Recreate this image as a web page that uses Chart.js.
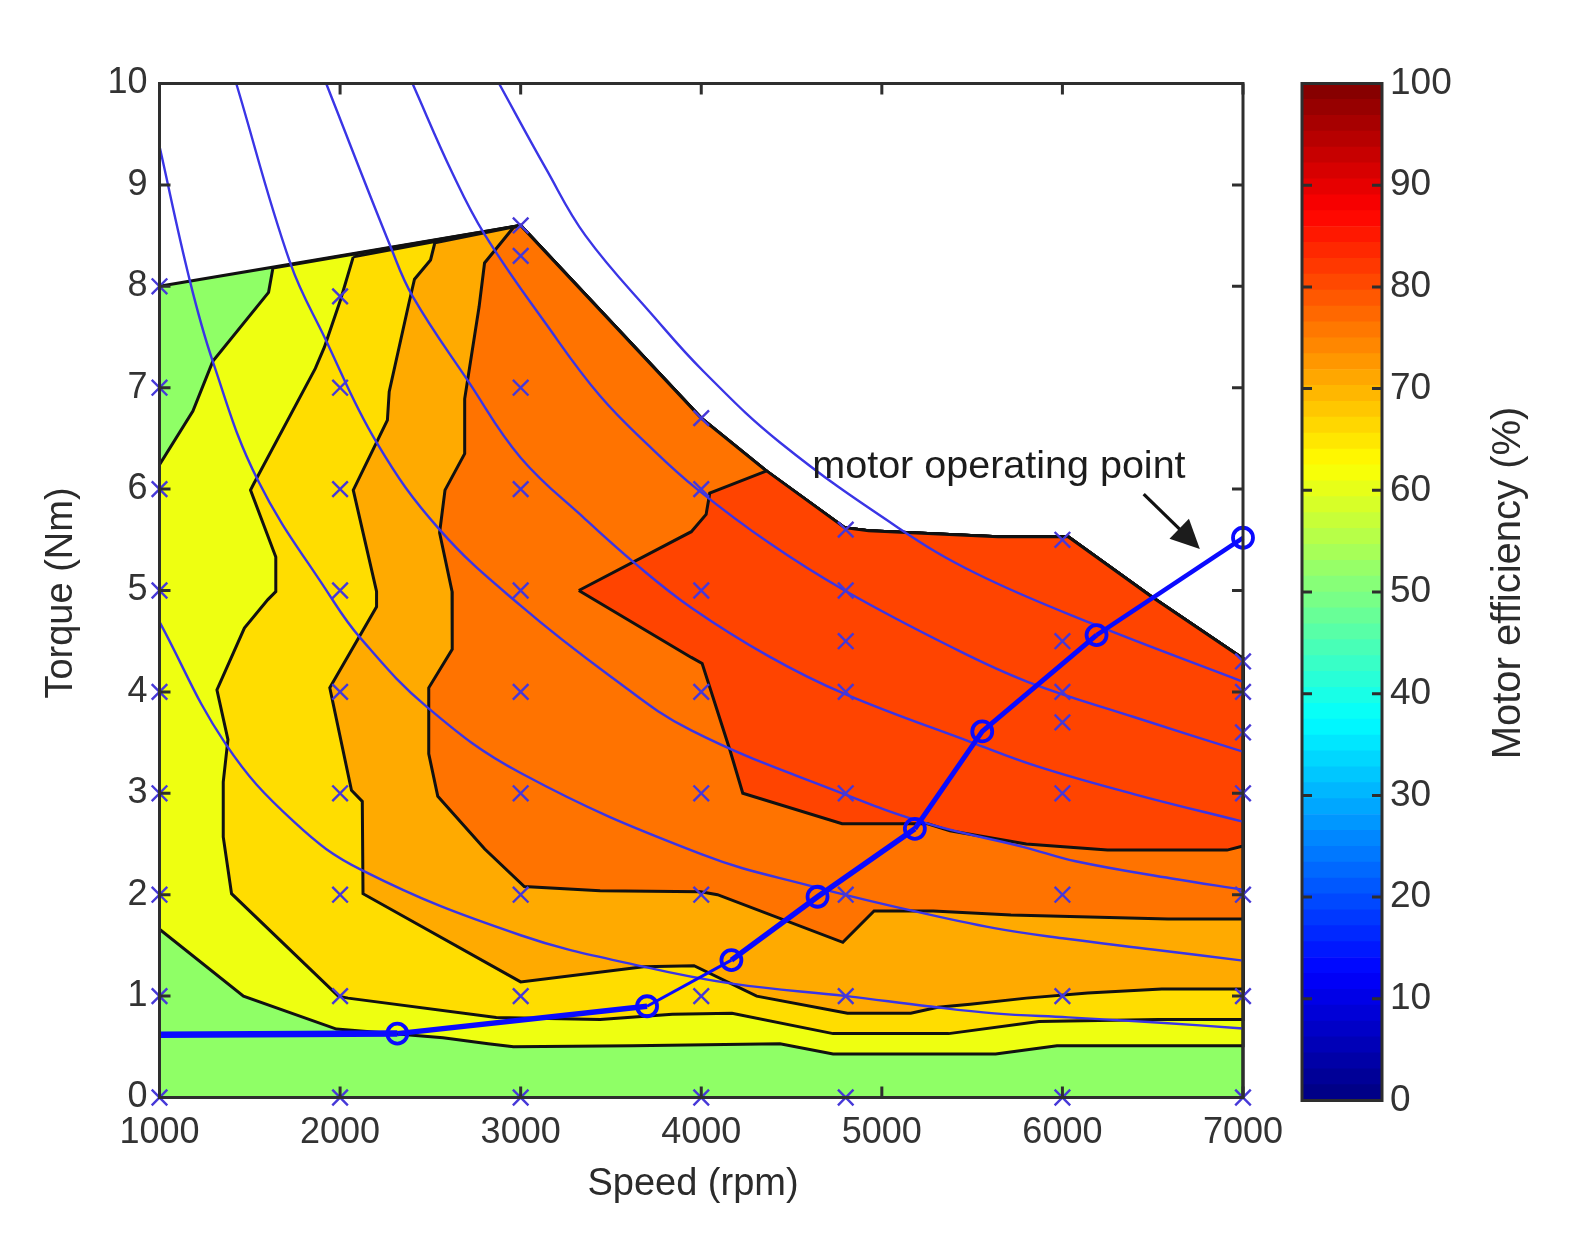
<!DOCTYPE html>
<html>
<head>
<meta charset="utf-8">
<title>Motor efficiency map</title>
<script src="https://cdn.jsdelivr.net/npm/chart.js@4"></script>
<style>
	body { margin: 0; background: #fff; }
	canvas { position: absolute; top: 0; }
	#mapChart { left: 0; }
	#barChart { left: 1290px; }
</style>
</head>
<body>
<canvas id="mapChart" width="1573" height="1243"></canvas>
<canvas id="barChart" width="283" height="1243"></canvas>
<script>
const speedTicks = [1000, 2000, 3000, 4000, 5000, 6000, 7000];
const torqueTicks = [0, 1, 2, 3, 4, 5, 6, 7, 8, 9, 10];
const efficiencyTicks = [0, 10, 20, 30, 40, 50, 60, 70, 80, 90, 100];

// upper limit of the map, right side back to the 3000 rpm peak
const limitEdge = [[7000, 4.33], [6492, 4.94], [6032, 5.53], [5643, 5.53], [5285, 5.56], [4927, 5.59], [4794, 5.62], [4367, 6.17], [4000, 6.7], [3000, 8.6]];
const fullMap = [[1000, 8.0], [1000, 0], [7000, 0]];

// contour boundaries, each from the top edge round to the right side
const contour55 = [[1628, 8.18], [1604, 7.94], [1295, 7.26], [1185, 6.77], [1000, 6.24], [1000, 1.66], [1465, 1.0], [1980, 0.675], [2570, 0.59], [2820, 0.53], [2960, 0.5], [3620, 0.51], [4436, 0.53], [4730, 0.43], [5630, 0.43], [5970, 0.51], [7000, 0.51]];
const contour60 = [[2073, 8.29], [2003, 7.87], [1913, 7.4], [1863, 7.19], [1524, 6.06], [1504, 5.99], [1644, 5.33], [1644, 4.99], [1600, 4.91], [1470, 4.63], [1318, 4.02], [1379, 3.53], [1353, 3.11], [1353, 2.57], [1399, 2.01], [1990, 1.0], [2044, 0.98], [2865, 0.79], [3440, 0.77], [3840, 0.82], [4170, 0.83], [4730, 0.63], [5370, 0.63], [5870, 0.75], [6530, 0.77], [7000, 0.77]];
const contour65 = [[2525, 8.43], [2501, 8.26], [2412, 8.07], [2382, 7.84], [2272, 6.96], [2262, 6.68], [2073, 5.99], [2202, 4.99], [2202, 4.84], [1943, 4.04], [2063, 3.03], [2123, 2.92], [2127, 2.01], [3000, 1.14], [3680, 1.29], [3960, 1.3], [4307, 1.0], [4810, 0.83], [5160, 0.83], [5310, 0.89], [5490, 0.92], [5800, 0.98], [6140, 1.03], [6550, 1.07], [7000, 1.07]];
const contour70 = [[2960, 8.58], [2800, 8.23], [2770, 7.8], [2690, 6.89], [2690, 6.35], [2581, 5.99], [2551, 5.57], [2620, 4.99], [2621, 4.42], [2491, 4.04], [2491, 3.39], [2541, 2.97], [2801, 2.45], [3020, 2.08], [3440, 2.04], [3997, 2.03], [4090, 2.0], [4784, 1.53], [4957, 1.84], [5285, 1.84], [5715, 1.8], [6585, 1.76], [7000, 1.76]];
const contour75 = [[3322, 5.0], [3945, 5.58], [4027, 5.75], [4047, 5.96], [4362, 6.18], [4794, 5.62], [4927, 5.59], [5285, 5.56], [5643, 5.53], [6032, 5.53], [6492, 4.94], [7000, 4.33], [7000, 2.48], [6912, 2.44], [6250, 2.44], [5800, 2.5], [5377, 2.63], [5254, 2.7], [4780, 2.7], [4230, 3.0], [4160, 3.42], [4005, 4.28], [3945, 4.34]];

// constant power curves
const powerCurve1 = [[1000, 4.69], [1365, 3.49], [1744, 2.72], [2123, 2.24], [3000, 1.6], [3680, 1.29], [4180, 1.12], [4804, 1.0], [5255, 0.9], [5623, 0.83], [6032, 0.79], [6523, 0.74], [7000, 0.68]];
const powerCurve2 = [[1000, 9.38], [1166, 8.07], [1295, 7.26], [1544, 6.09], [1943, 4.95], [2113, 4.53], [2482, 3.85], [3000, 3.2], [4000, 2.4], [4620, 2.08], [5173, 1.84], [5623, 1.67], [6000, 1.57], [6500, 1.46], [7000, 1.35]];
const powerCurve3 = [[1425, 10], [1724, 8.23], [1913, 7.5], [2202, 6.46], [2551, 5.6], [3000, 4.85], [3500, 4.15], [3945, 3.62], [4794, 2.99], [5254, 2.7], [5786, 2.47], [6073, 2.33], [6605, 2.16], [7000, 2.05]];
const powerCurve4 = [[1923, 10], [2282, 8.38], [2402, 7.9], [2711, 7.06], [3000, 6.31], [3360, 5.7], [3638, 5.26], [3945, 4.83], [4375, 4.35], [4794, 3.98], [5500, 3.5], [5870, 3.26], [6400, 2.99], [7000, 2.72]];
const powerCurve5 = [[2401, 10], [2621, 9.12], [2801, 8.51], [3140, 7.63], [3439, 6.92], [3738, 6.38], [3977, 6.0], [4375, 5.47], [4794, 5.0], [5377, 4.45], [5807, 4.1], [6400, 3.75], [7000, 3.41]];
const powerCurve6 = [[2880, 10], [3140, 9.16], [3359, 8.5], [3738, 7.7], [4013, 7.16], [4436, 6.46], [5090, 5.62], [5520, 5.17], [6155, 4.68], [7000, 4.1]];

// measured points
const measured1000 = [0, 1, 2, 3, 4, 5, 6, 7, 8];
const measured2000 = [0, 1, 2, 3, 4, 5, 6, 7, 7.9];
const measured3000 = [0, 1, 2, 3, 4, 5, 6, 7, 8.3, 8.6];
const measured4000 = [0, 1, 2, 3, 4, 5, 6, 6.7];
const measured4800 = [0, 1, 2, 3, 4, 4.5, 5, 5.6];
const measured6000 = [0, 1, 2, 3, 3.7, 4, 4.5, 5.5];
const measured7000 = [0, 1, 2, 3, 3.6, 4, 4.3];

const operatingPoints = [[1000, 0.62], [2317, 0.63], [3700, 0.9], [4167, 1.355], [4644, 1.98], [5183, 2.65], [5556, 3.61], [6189, 4.56], [7000, 5.52]];
const operatingWidths = [6.5, 5.5, 3, 5.5, 5.5, 5, 5, 4.5];

const annotationAt = [4615, 6.22];
const arrowFrom = [6450, 5.95];
const arrowTo = [6761, 5.41];

const textFont = '"Liberation Sans", Arial, sans-serif';
const textColor = '#2b2b2b';
const axisColor = '#2e2e2e';

const toXY = (pairs) => pairs.map((p) => ({ x: p[0], y: p[1] }));
const column = (speed, torques) => torques.map((t) => ({ x: speed, y: t }));

const region = (points, color) => ({
	data: toXY(points.concat([points[0]])),
	showLine: true,
	fill: 'shape',
	backgroundColor: color,
	borderColor: '#111',
	borderWidth: 3,
	pointRadius: 0,
	clip: false,
});

const curve = (points) => ({
	data: toXY(points),
	showLine: true,
	fill: false,
	borderColor: '#3a35e6',
	borderWidth: 2.4,
	tension: 0.4,
	pointRadius: 0,
});

const measuredPoints = [].concat(
	column(1000, measured1000), column(2000, measured2000), column(3000, measured3000),
	column(4000, measured4000), column(4800, measured4800), column(6000, measured6000),
	column(7000, measured7000)
);

// first datasets are drawn last, so the line work comes first
const mapDatasets = [
	{
		data: toXY(operatingPoints),
		showLine: true,
		borderColor: '#0a0aff',
		backgroundColor: 'transparent',
		borderWidth: 4,
		segment: { borderWidth: (c) => operatingWidths[c.p0DataIndex] },
		pointRadius: (c) => (c.dataIndex === 0 ? 0 : 10),
		pointBorderColor: '#0a0aff',
		pointBorderWidth: 3.8,
		pointBackgroundColor: 'transparent',
		clip: false,
	},
	{
		data: measuredPoints,
		showLine: false,
		pointStyle: 'crossRot',
		pointRadius: 11,
		pointBorderColor: '#4638d8',
		pointBorderWidth: 2.4,
		clip: false,
	},
	curve(powerCurve1), curve(powerCurve2), curve(powerCurve3),
	curve(powerCurve4), curve(powerCurve5), curve(powerCurve6),
	region(contour75, '#ff4400'),
	region(contour70.concat(limitEdge), '#ff7300'),
	region(contour65.concat(limitEdge), '#ffaa00'),
	region(contour60.concat(limitEdge), '#ffdd00'),
	region(contour55.concat(limitEdge), '#eeff11'),
	region(fullMap.concat(limitEdge), '#8fff66'),
];

// ticks inside the box on all four sides, like the original plot
const drawBox = (chart, xTicks, yTicks, tickLen) => {
	const { ctx, chartArea: a, scales } = chart;
	ctx.save();
	ctx.strokeStyle = axisColor;
	ctx.lineWidth = 3;
	ctx.strokeRect(a.left, a.top, a.right - a.left, a.bottom - a.top);
	ctx.beginPath();
	for (const v of xTicks) {
		const px = scales.x.getPixelForValue(v);
		ctx.moveTo(px, a.top);
		ctx.lineTo(px, a.top + tickLen);
		ctx.moveTo(px, a.bottom);
		ctx.lineTo(px, a.bottom - tickLen);
	}
	for (const v of yTicks) {
		const py = scales.y.getPixelForValue(v);
		ctx.moveTo(a.left, py);
		ctx.lineTo(a.left + tickLen, py);
		ctx.moveTo(a.right, py);
		ctx.lineTo(a.right - tickLen, py);
	}
	ctx.stroke();
	ctx.restore();
};

const drawTitle = (ctx, text, x, y, size, angle) => {
	ctx.save();
	ctx.translate(x, y);
	ctx.rotate(angle);
	ctx.textAlign = 'center';
	ctx.textBaseline = 'middle';
	ctx.fillStyle = textColor;
	ctx.font = size + 'px ' + textFont;
	ctx.fillText(text, 0, 0);
	ctx.restore();
};

const mapDecor = {
	id: 'mapDecor',
	afterDatasetsDraw(chart) {
		const { ctx, scales } = chart;
		drawBox(chart, speedTicks, torqueTicks, 11);
		drawTitle(ctx, 'Speed (rpm)', 693, 1185, 38, 0);
		drawTitle(ctx, 'Torque (Nm)', 62, 593, 38, -Math.PI / 2);
		ctx.save();
		ctx.fillStyle = '#1c1c1c';
		ctx.font = '39.5px ' + textFont;
		ctx.textBaseline = 'middle';
		ctx.fillText('motor operating point', scales.x.getPixelForValue(annotationAt[0]), scales.y.getPixelForValue(annotationAt[1]));
		const x0 = scales.x.getPixelForValue(arrowFrom[0]);
		const y0 = scales.y.getPixelForValue(arrowFrom[1]);
		const x1 = scales.x.getPixelForValue(arrowTo[0]);
		const y1 = scales.y.getPixelForValue(arrowTo[1]);
		const ang = Math.atan2(y1 - y0, x1 - x0);
		ctx.strokeStyle = '#111';
		ctx.lineWidth = 3.2;
		ctx.beginPath();
		ctx.moveTo(x0, y0);
		ctx.lineTo(x1 - 20 * Math.cos(ang), y1 - 20 * Math.sin(ang));
		ctx.stroke();
		ctx.beginPath();
		ctx.moveTo(x1, y1);
		ctx.lineTo(x1 - 32 * Math.cos(ang - 0.45), y1 - 32 * Math.sin(ang - 0.45));
		ctx.lineTo(x1 - 32 * Math.cos(ang + 0.45), y1 - 32 * Math.sin(ang + 0.45));
		ctx.closePath();
		ctx.fill();
		ctx.restore();
	},
};

const tickFont = { family: textFont, size: 36 };

new Chart(document.getElementById('mapChart'), {
	type: 'scatter',
	data: { datasets: mapDatasets },
	plugins: [mapDecor],
	options: {
		responsive: false,
		animation: false,
		layout: { padding: { top: 83.5, right: 330, bottom: 0, left: 0 } },
		plugins: { legend: { display: false }, tooltip: { enabled: false } },
		scales: {
			x: {
				type: 'linear',
				min: 1000,
				max: 7000,
				afterBuildTicks: (s) => { s.ticks = speedTicks.map((v) => ({ value: v })); },
				afterFit: (s) => { s.height = 145.5; },
				grid: { display: false },
				border: { display: false },
				ticks: { font: tickFont, color: '#333', padding: 6, maxRotation: 0, autoSkip: false, callback: (v) => String(v) },
			},
			y: {
				type: 'linear',
				min: 0,
				max: 10,
				afterBuildTicks: (s) => { s.ticks = torqueTicks.map((v) => ({ value: v })); },
				afterFit: (s) => { s.width = 159.5; },
				grid: { display: false },
				border: { display: false },
				ticks: { font: tickFont, color: '#333', padding: 4, autoSkip: false, callback: (v) => String(v) },
			},
		},
	},
});

// 64 step jet colour map for the colour bar
const jetColor = (i) => {
	const t = (i + 0.5) / 64;
	const ch = (c) => Math.round(255 * Math.max(0, Math.min(1, 1.5 - Math.abs(4 * t - c))));
	return 'rgb(' + ch(3) + ',' + ch(2) + ',' + ch(1) + ')';
};
const barSteps = Array.from({ length: 64 }, (_, i) => i);

const barDecor = {
	id: 'barDecor',
	afterDatasetsDraw(chart) {
		drawBox(chart, [], efficiencyTicks.slice(1, -1), 10);
		drawTitle(chart.ctx, 'Motor efficiency (%)', 219, 583, 40, -Math.PI / 2);
	},
};

new Chart(document.getElementById('barChart'), {
	type: 'bar',
	data: {
		labels: ['efficiency'],
		datasets: barSteps.map((i) => ({
			data: [100 / 64],
			backgroundColor: jetColor(i),
			barPercentage: 1,
			categoryPercentage: 1,
			stack: 'bar',
		})),
	},
	plugins: [barDecor],
	options: {
		responsive: false,
		animation: false,
		layout: { padding: { top: 83.5, right: 0, bottom: 142.5, left: 12 } },
		plugins: { legend: { display: false }, tooltip: { enabled: false } },
		scales: {
			x: { stacked: true, display: false },
			y: {
				stacked: true,
				position: 'right',
				min: 0,
				max: 100,
				afterBuildTicks: (s) => { s.ticks = efficiencyTicks.map((v) => ({ value: v })); },
				afterFit: (s) => { s.width = 191; },
				grid: { display: false },
				border: { display: false },
				ticks: { font: { family: textFont, size: 37 }, color: '#333', padding: 0, autoSkip: false },
			},
		},
	},
});
</script>
</body>
</html>
